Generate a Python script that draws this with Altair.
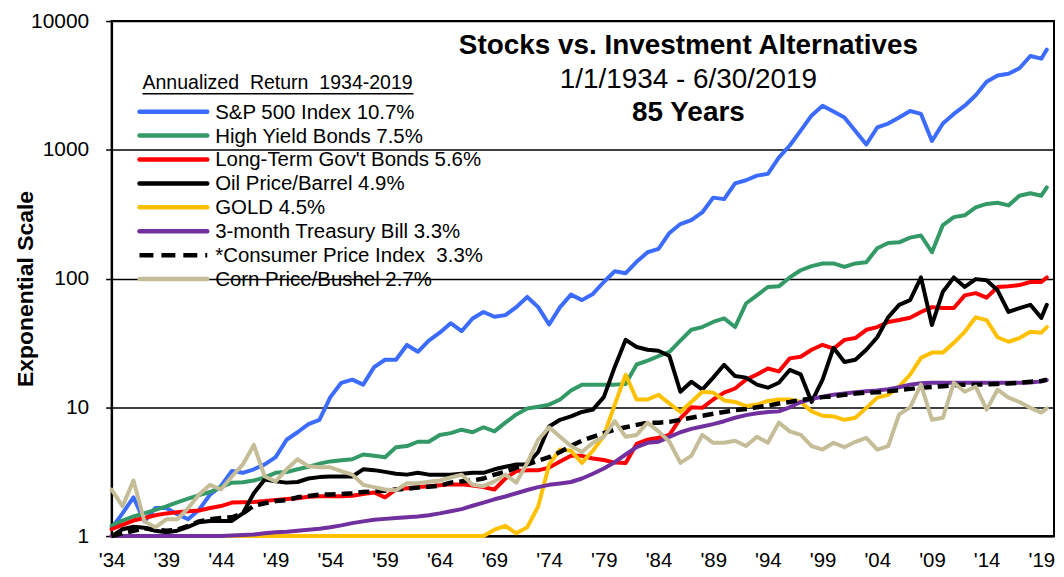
import altair as alt
import pandas as pd

# ---------------- data ----------------
years = list(range(1934, 2020)) + [2019.5]

sp500 = [1.15, 1.5, 2.0, 1.3, 1.65, 1.65,
         1.48, 1.35, 1.6, 2.1, 2.45, 3.2, 3.1, 3.3, 3.6, 4.1,
         5.6, 6.4, 7.4, 8.0, 12, 15.5, 16.4, 15, 20.5, 23.4,
         23.4, 30.5, 27, 33, 38, 45, 39, 49, 55, 50.5,
         52, 60, 72, 60, 44, 60, 75, 68, 76, 94,
         114, 110, 135, 160, 170, 226, 265, 284, 326, 425,
         414, 548, 580, 630, 650, 870, 1080, 1410, 1850, 2200,
         1980, 1780, 1400, 1100, 1490, 1600, 1780, 2000, 1900, 1170,
         1600, 1900, 2200, 2650, 3380, 3780, 3900, 4300, 5350, 5100,
         6000]

high_yield = [1.2, 1.32, 1.42, 1.5, 1.6, 1.7,
              1.83, 1.95, 2.08, 2.2, 2.4, 2.6, 2.62, 2.7, 2.86, 3.1,
              3.14, 3.3, 3.45, 3.65, 3.8, 3.88, 3.95, 4.3, 4.2, 4.1,
              4.9, 5.0, 5.4, 5.4, 6.1, 6.3, 6.7, 6.4, 7.0, 6.5,
              7.6, 8.8, 9.8, 10.1, 10.5, 11.5, 13.5, 15, 15, 15,
              15, 15.2, 21.5, 23, 25, 27, 33, 40, 42, 46,
              49, 42, 64, 74, 86, 87, 102, 116, 125, 131,
              131, 123, 131, 134, 172, 189, 191, 208, 216, 160,
              260, 300, 310, 357, 380, 388, 370, 440, 460, 440,
              510]

gov_bonds = [1.13, 1.22, 1.32, 1.38, 1.45, 1.5,
             1.53, 1.56, 1.58, 1.65, 1.71, 1.82, 1.83, 1.84, 1.87, 1.91,
             1.94, 1.97, 2.02, 2.04, 2.04, 2.04, 2.06, 2.12, 2.18, 2.0,
             2.3, 2.35, 2.4, 2.44, 2.48, 2.52, 2.52, 2.47, 2.4, 2.3,
             2.8, 3.2, 3.24, 3.24, 3.4, 3.8, 4.2, 4.2, 4.0, 3.9,
             3.72, 3.7, 5.2, 5.6, 5.8, 6.1, 8.2, 10, 9.9, 11.5,
             13, 14, 16.4, 18, 20, 19, 24, 24.7, 28, 30.6,
             28.5, 33.4, 34.5, 40, 42, 46, 47.6, 49.6, 55, 60,
             59, 59, 74, 77, 71, 86, 87, 89, 94, 94,
             102]

oil = [1.0, 1.13, 1.18, 1.16, 1.1, 1.07,
       1.1, 1.18, 1.28, 1.31, 1.31, 1.31, 1.5, 2.15, 2.75, 2.66,
       2.6, 2.63, 2.8, 2.87, 2.9, 2.9, 2.9, 3.3, 3.25, 3.15,
       3.05, 3.0, 3.1, 3.0, 3.0, 3.0, 3.05, 3.1, 3.1, 3.3,
       3.45, 3.6, 3.6, 4.5, 7.1, 8.0, 8.5, 9.2, 9.6, 12,
       20.6, 33.4, 29.4, 28, 27.5, 25, 13.2, 15.8, 13.7, 17,
       21.4, 17.5, 17, 15, 14.2, 15.5, 19.5, 18, 11, 16.4,
       29, 22.5, 23.4, 28, 35, 50, 62.5, 68, 102, 43.6,
       79, 102, 86, 99, 97, 81, 55, 59, 62.5, 49.5,
       62.5]

gold = [1.0, 1.0, 1.0, 1.0, 1.0, 1.0,
        1.0, 1.0, 1.0, 1.0, 1.0, 1.0, 1.0, 1.0, 1.0, 1.0,
        1.0, 1.0, 1.0, 1.0, 1.0, 1.0, 1.0, 1.0, 1.0, 1.0,
        1.0, 1.0, 1.0, 1.0, 1.0, 1.0, 1.0, 1.0, 1.0, 1.12,
        1.2, 1.05, 1.17, 1.7, 3.6, 4.7, 4.6, 3.7, 4.6, 6.0,
        10.5, 17.9, 11.5, 11.5, 12.5, 10.7, 9.2, 11, 13.2, 13,
        11.3, 11, 10.2, 10.5, 11.2, 11.5, 11.5, 11, 9.3, 8.6,
        8.5, 8.0, 8.3, 9.9, 11.9, 12.5, 14.5, 17.9, 24.2, 26.6,
        26.6, 31.7, 38.6, 50, 47.6, 35, 32.3, 34.5, 38.6, 38,
        42]

tbill = [1.0, 1.0, 1.0, 1.0, 1.0, 1.0,
         1.0, 1.0, 1.0, 1.0, 1.0, 1.01, 1.02, 1.03, 1.05, 1.07,
         1.08, 1.1, 1.12, 1.14, 1.17, 1.21, 1.26, 1.3, 1.34, 1.36,
         1.38, 1.4, 1.42, 1.45, 1.5, 1.56, 1.62, 1.72, 1.82, 1.93,
         2.03, 2.15, 2.28, 2.4, 2.5, 2.56, 2.63, 2.8, 3.05, 3.35,
         3.75, 4.3, 4.9, 5.3, 5.4, 5.9, 6.4, 6.8, 7.1, 7.4,
         7.8, 8.3, 8.7, 9.0, 9.2, 9.3, 10.0, 11.0, 11.6, 12.1,
         12.5, 12.8, 13.1, 13.3, 13.5, 13.8, 14.3, 15.0, 15.4, 15.5,
         15.5, 15.5, 15.5, 15.5, 15.5, 15.5, 15.5, 15.5, 15.6, 15.9,
         16.3]

cpi = [1.0, 1.05, 1.1, 1.15, 1.12, 1.1,
       1.12, 1.2, 1.3, 1.35, 1.38, 1.4, 1.5, 1.72, 1.8, 1.87,
       1.9, 2.0, 2.05, 2.1, 2.1, 2.12, 2.15, 2.2, 2.22, 2.25,
       2.3, 2.33, 2.38, 2.42, 2.46, 2.6, 2.66, 2.7, 2.8, 3.0,
       3.15, 3.4, 3.6, 3.85, 4.1, 4.5, 5.0, 5.5, 5.9, 6.3,
       6.7, 7.0, 7.3, 7.6, 7.6, 7.7, 8.0, 8.3, 8.6, 8.9,
       9.2, 9.5, 9.7, 10.0, 10.3, 10.7, 11.0, 11.4, 11.7, 12.0,
       12.2, 12.5, 12.8, 13.0, 13.1, 13.3, 13.6, 13.9, 14.2, 14.4,
       14.6, 14.8, 15.0, 15.0, 15.1, 15.2, 15.3, 15.5, 15.8, 16.0,
       16.4]

corn = [2.3, 1.7, 2.7, 1.3, 1.17, 1.35,
        1.35, 1.65, 2.1, 2.5, 2.3, 2.9, 3.6, 5.1, 2.9, 2.66,
        3.3, 3.95, 3.48, 3.42, 3.42, 3.2, 3.0, 2.5, 2.4, 2.3,
        2.27, 2.57, 2.57, 2.64, 2.7, 2.85, 3.0, 2.5, 2.44, 2.66,
        3.0, 2.6, 3.7, 5.6, 7.0, 5.9, 5.0, 4.5, 5.3, 5.9,
        7.8, 5.9, 6.1, 7.6, 6.5, 5.4, 3.7, 4.2, 6.1, 5.3,
        5.3, 5.5, 5.0, 5.9, 5.3, 7.6, 6.5, 6.1, 5.0, 4.7,
        5.3, 4.9, 5.4, 5.8, 4.7, 5.0, 8.8, 10, 15, 8.0,
        8.3, 15.5, 13.2, 14.5, 9.6, 13.7, 11.9, 11, 9.9, 9.1,
        9.8]

series_labels = [
    "S&P 500 Index 10.7%",
    "High Yield Bonds 7.5%",
    "Long-Term Gov't Bonds 5.6%",
    "Oil Price/Barrel 4.9%",
    "GOLD 4.5%",
    "3-month Treasury Bill 3.3%",
    "*Consumer Price Index\u00a0 3.3%",
    "Corn Price/Bushel 2.7%",
]
series_values = [sp500, high_yield, gov_bonds, oil, gold, tbill, cpi, corn]
tick_years = list(range(1934, 2020, 5))
y_ticks = [1, 10, 100, 1000, 10000]

legend_title = "Annualized\u00a0 Return\u00a0 1934-2019"
title_lines = ["Stocks vs. Investment Alternatives", "1/1/1934 - 6/30/2019", "85 Years"]

# ---------------- styles ----------------
colors = ["#3B6CFF", "#339966", "#FF0000", "#000000", "#FFC000", "#7030A0", "#000000", "#C4BD97"]
dashed = [False, False, False, False, False, False, True, False]
FONT = "Liberation Sans"
W, H = 946, 517

x_scale = alt.Scale(domain=[1934, 2020.16], nice=False, zero=False)
y_scale = alt.Scale(type="log", domain=[1, 10000], nice=False)

x_axis = alt.Axis(values=tick_years,
                  labelExpr="\"'\" + substring(toString(datum.value), 2, 4)",
                  labelFont=FONT, labelFontSize=20.5, labelColor="black",
                  labelPadding=15, ticks=False, grid=False,
                  domainColor="black", domainWidth=2, title=None,
                  labelFlush=False, labelOverlap=False)
y_axis = alt.Axis(values=y_ticks, format="d",
                  labelFont=FONT, labelFontSize=21, labelColor="black",
                  labelPadding=17, tickColor="black", tickSize=6, tickWidth=1.5,
                  grid=True, gridColor="black", gridWidth=1.4, gridOpacity=1,
                  domainColor="black", domainWidth=2,
                  title="Exponential Scale", titleFont=FONT, titleFontSize=23,
                  titleFontWeight="bold", titleColor="black",
                  titleX=-86, titleY=H / 2 + 10, titleAngle=270,
                  titleAlign="center", titleBaseline="middle",
                  labelFlush=False, labelOverlap=False)

layers = []
for i, vals in enumerate(series_values):
    d = pd.DataFrame({"year": years, "value": vals})
    kw = dict(color=colors[i], strokeWidth=4, strokeJoin="round", clip=False)
    if dashed[i]:
        kw.update(strokeDash=[11, 6], strokeWidth=4.5, strokeCap="butt")
    else:
        kw.update(strokeCap="round")
    layers.append(
        alt.Chart(d).mark_line(**kw).encode(
            x=alt.X("year:Q", scale=x_scale, axis=x_axis),
            y=alt.Y("value:Q", scale=y_scale, axis=y_axis),
        )
    )

# ---------------- manual legend ----------------
LEG_X0, LEG_X1, LEG_TX, LEG_Y0, LEG_DY = 28, 96, 104, 91, 24
for i, lab in enumerate(series_labels):
    yy = LEG_Y0 + LEG_DY * i
    rkw = dict(color=colors[i], strokeWidth=4.5)
    if dashed[i]:
        rkw.update(strokeDash=[14, 8], strokeCap="butt")
    else:
        rkw.update(strokeCap="round")
    ld = pd.DataFrame({"label": [lab]})
    layers.append(alt.Chart(ld).mark_rule(**rkw).encode(
        x=alt.value(LEG_X0), x2=alt.value(LEG_X1), y=alt.value(yy)))
    layers.append(alt.Chart(ld).mark_text(
        align="left", baseline="middle", font=FONT, fontSize=20.5, color="black"
    ).encode(x=alt.value(LEG_TX), y=alt.value(yy + 1), text="label:N"))

lt = pd.DataFrame({"label": [legend_title]})
layers.append(alt.Chart(lt).mark_text(
    align="left", baseline="middle", font=FONT, fontSize=19.6, color="black"
).encode(x=alt.value(31), y=alt.value(62), text="label:N"))
layers.append(alt.Chart(lt).mark_rule(color="black", strokeWidth=1.3).encode(
    x=alt.value(31), x2=alt.value(303), y=alt.value(73)))

# ---------------- chart title block inside plot ----------------
title_y = [25.5, 59, 92]
title_bold = ["bold", "normal", "bold"]
for txt, ty, fw in zip(title_lines, title_y, title_bold):
    td = pd.DataFrame({"label": [txt]})
    layers.append(alt.Chart(td).mark_text(
        align="center", baseline="middle", font=FONT, fontSize=28,
        fontWeight=fw, color="black"
    ).encode(x=alt.value(579), y=alt.value(ty), text="label:N"))

chart = alt.layer(*layers).properties(
    width=W, height=H,
    autosize=alt.AutoSizeParams(type="none"),
    padding={"left": 104, "top": 12, "right": 2, "bottom": 38},
    background="white",
).configure_view(stroke="black", strokeWidth=2)

chart.save("out.html", embed_options={"renderer": "svg", "actions": False})
